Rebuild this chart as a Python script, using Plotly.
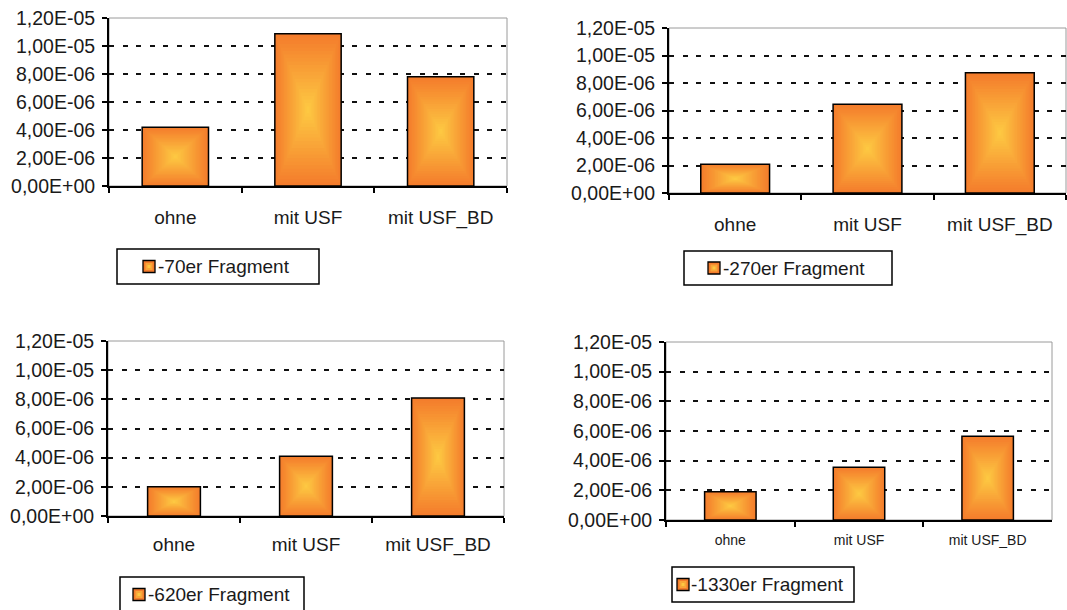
import plotly.graph_objects as go

# ---- data -------------------------------------------------------------
categories = ["ohne", "mit USF", "mit USF_BD"]
fragments = ["-70er Fragment", "-270er Fragment", "-620er Fragment", "-1330er Fragment"]
values_70 = [4.2e-6, 1.088e-5, 7.8e-6]
values_270 = [2.1e-6, 6.45e-6, 8.75e-6]
values_620 = [2.0e-6, 4.1e-6, 8.1e-6]
values_1330 = [1.9e-6, 3.55e-6, 5.65e-6]
y_tickvals = [0, 2e-6, 4e-6, 6e-6, 8e-6, 1e-5, 1.2e-5]
y_ticktext = ["0,00E+00", "2,00E-06", "4,00E-06", "6,00E-06",
              "8,00E-06", "1,00E-05", "1,20E-05"]
series = [values_70, values_270, values_620, values_1330]

# ---- styling / layout ---------------------------------------------------
W, H = 1067, 610
FONT = "Liberation Sans, Arial, sans-serif"
TEXT = "#1a1a1a"
EDGE = (244, 124, 44)     # orange rim of the bars
CENTER = (253, 200, 66)   # yellow core of the bars
N_LAYERS = 22

# plot boxes in pixels: (left, right, top, bottom)
boxes = [(109, 507, 18, 186), (669, 1066, 28, 193),
         (108, 504, 341, 516), (666, 1052, 342, 520)]
bar_widths = [0.5, 0.52, 0.4, 0.4]
cat_font = [19, 19, 19, 14]
cat_standoff = [13, 13, 10, 6]
# legend boxes: (left, right, top, bottom, symbol_left, text_left)
legend_boxes = [(117, 319, 249, 284, 143, 156),
                (684, 892, 251, 285, 708, 721),
                (120, 304, 577, 612, 133, 146),
                (672, 854, 567, 602, 677, 689)]
SYM = 12


def blend(t):
    return "rgb(%d,%d,%d)" % tuple(round(e + (c - e) * t) for e, c in zip(EDGE, CENTER))


def px_x(v):
    return v / W


def px_y(v):
    return 1 - v / H


fig = go.Figure()
shapes, annotations = [], []
layout = dict(width=W, height=H, autosize=False,
              margin=dict(l=0, r=0, t=0, b=0, pad=0, autoexpand=False),
              paper_bgcolor="white", plot_bgcolor="white", barmode="overlay",
              showlegend=False,
              font=dict(family=FONT, size=19, color=TEXT))

for i, (vals, name) in enumerate(zip(series, fragments)):
    n = "" if i == 0 else str(i + 1)
    xa, ya = "x" + n, "y" + n
    left, right, top, bottom = boxes[i]
    bw = bar_widths[i]

    # nested rectangles shrinking toward each bar's centre give the radial fill
    for k in range(N_LAYERS):
        t = k / N_LAYERS
        fig.add_trace(go.Bar(
            x=categories,
            y=[v * (1 - t) for v in vals],
            base=[v * t / 2 for v in vals],
            width=[bw * (1 - t)] * len(vals),
            marker=dict(color=blend(t / (1 - 1 / N_LAYERS)), line=dict(width=0)),
            name=name, xaxis=xa, yaxis=ya, hoverinfo="skip"))
    # crisp black outline on top
    fig.add_trace(go.Bar(
        x=categories, y=vals, width=[bw] * len(vals), name=name,
        marker=dict(color="rgba(0,0,0,0)", line=dict(color="black", width=1.5)),
        xaxis=xa, yaxis=ya, hoverinfo="skip"))

    layout["xaxis" + n] = dict(
        domain=[px_x(left), px_x(right)], anchor=ya, type="category",
        range=[-0.5, len(categories) - 0.5], tickson="boundaries",
        ticks="outside", ticklen=5, tickwidth=1.5, tickcolor="black",
        showline=True, linecolor="black", linewidth=2, showgrid=False,
        tickfont=dict(size=cat_font[i]), ticklabelstandoff=cat_standoff[i],
        automargin=False, fixedrange=True)
    layout["yaxis" + n] = dict(
        domain=[px_y(bottom), px_y(top)], anchor=xa,
        range=[0, 1.2e-5], tickmode="array", tickvals=y_tickvals, ticktext=y_ticktext,
        ticks="outside", ticklen=5, tickwidth=1.5, tickcolor="black",
        showline=True, linecolor="black", linewidth=2, zeroline=False,
        showgrid=True, gridcolor="#111111", gridwidth=1.5, griddash="5px,8.5px",
        tickfont=dict(size=19.5), ticklabelstandoff=3,
        automargin=False, fixedrange=True)
    # light grey plot frame (top and right edges)
    shapes.append(dict(
        type="rect", xref=xa + " domain", yref=ya + " domain",
        x0=0, x1=1, y0=0, y1=1, line=dict(color="#9a9a9a", width=1), layer="below"))

    # legend box with a small shaded key and the series name
    bl, br, bt, bb, sl, tl = legend_boxes[i]
    mid = (bt + bb) / 2
    shapes.append(dict(type="rect", xref="paper", yref="paper",
                       x0=px_x(bl), x1=px_x(br), y0=px_y(bb), y1=px_y(bt),
                       line=dict(color="black", width=1.5), fillcolor="white"))
    for j, (inset, col) in enumerate([(0, blend(0)), (2.5, blend(0.55)), (4.5, blend(1))]):
        shapes.append(dict(type="rect", xref="paper", yref="paper",
                           x0=px_x(sl + inset), x1=px_x(sl + SYM - inset),
                           y0=px_y(mid + SYM / 2 - inset), y1=px_y(mid - SYM / 2 + inset),
                           line=dict(color="black", width=1.3 if j == 0 else 0),
                           fillcolor=col))
    annotations.append(dict(text=name, xref="paper", yref="paper",
                            x=px_x(tl), y=px_y(mid), xanchor="left", yanchor="middle",
                            showarrow=False, font=dict(size=19, color=TEXT)))

layout["shapes"] = shapes
layout["annotations"] = annotations
fig.update_layout(**layout)
fig.write_html("out.html")
